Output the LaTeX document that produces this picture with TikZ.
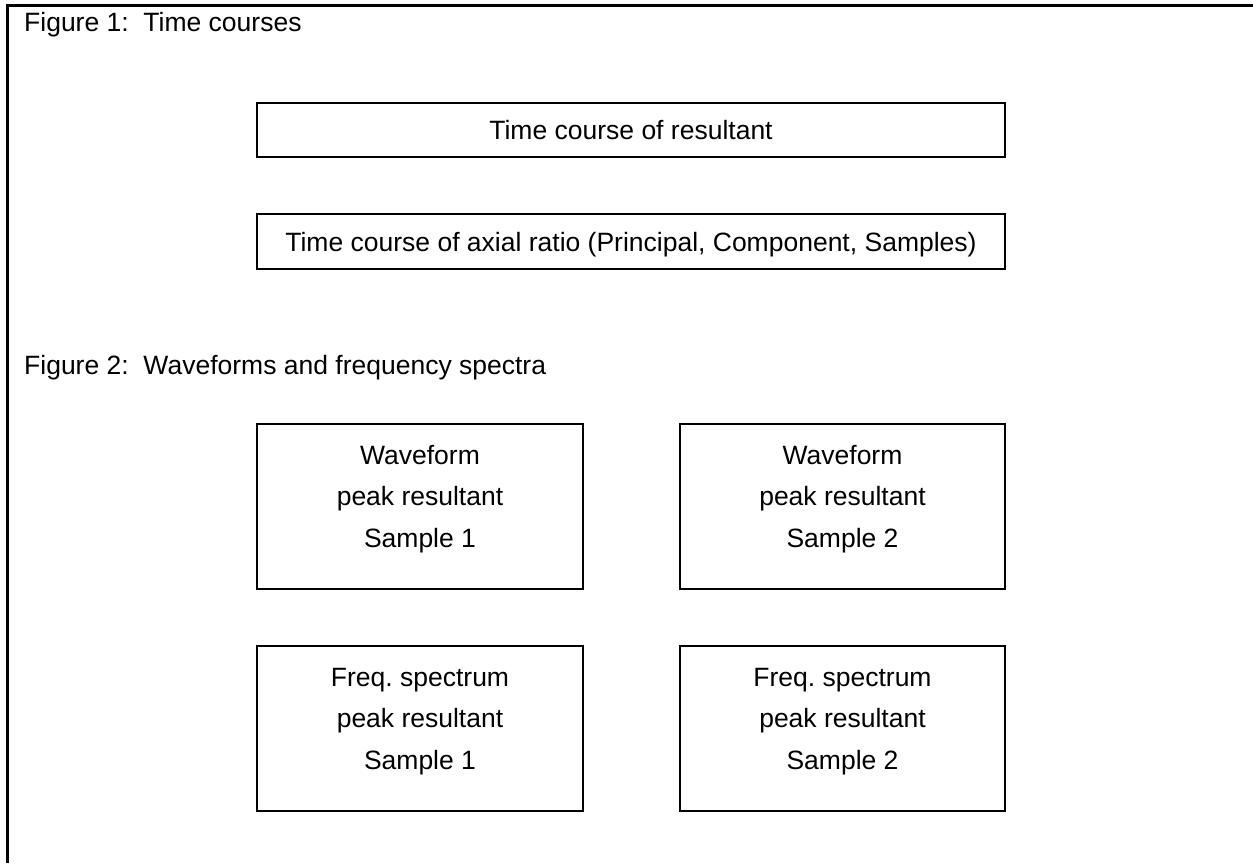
\documentclass[tikz,border=0pt]{standalone}
\usepackage{fontspec}
\setmainfont{Liberation Sans}
\frenchspacing
\begin{document}
\begin{tikzpicture}[x=1pt,y=-1pt,
  frame/.style={line width=2.4pt},
  box/.style={draw,line width=2.4pt,inner sep=0pt},
  lbl/.style={inner sep=0pt,font=\fontsize{26.5}{41.5}\selectfont},
  multi/.style={lbl,align=center,anchor=base}]
\useasboundingbox (0,0) rectangle (1253,863);
% outer frame (top and left edges)
\coordinate (tl) at (7.5,5.5);
\coordinate (tr) at (1253,5.5);
\coordinate (bl) at (7.5,863);
\draw[frame] (tr) -- (tl) -- (bl);
% headings
\node[lbl,anchor=base west] (h1) at (24,31.5) {Figure 1:\ \ Time courses};
\node[lbl,anchor=base west] (h2) at (24,374) {Figure 2:\ \ Waveforms and frequency spectra};
% Figure 1 boxes
\node[box,minimum width=748,minimum height=54] (b1) at (631,130) {};
\node[lbl,anchor=base] (t1) at (631,139) {Time course of resultant};
\node[box,minimum width=748,minimum height=55] (b2) at (631,241.5) {};
\node[lbl,anchor=base] (t2) at (631,251) {Time course of axial ratio (Principal, Component, Samples)};
% Figure 2 boxes
\node[box,minimum width=326,minimum height=165] (w1) at (420,506.5) {};
\node[multi] (tw1) at (420,547) {Waveform\\peak resultant\\Sample 1};
\node[box,minimum width=325,minimum height=165] (w2) at (842.5,506.5) {};
\node[multi] (tw2) at (842.5,547) {Waveform\\peak resultant\\Sample 2};
\node[box,minimum width=326,minimum height=165] (f1) at (420,728.5) {};
\node[multi] (tf1) at (420,769) {Freq. spectrum\\peak resultant\\Sample 1};
\node[box,minimum width=325,minimum height=165] (f2) at (842.5,728.5) {};
\node[multi] (tf2) at (842.5,769) {Freq. spectrum\\peak resultant\\Sample 2};
\end{tikzpicture}
\end{document}
